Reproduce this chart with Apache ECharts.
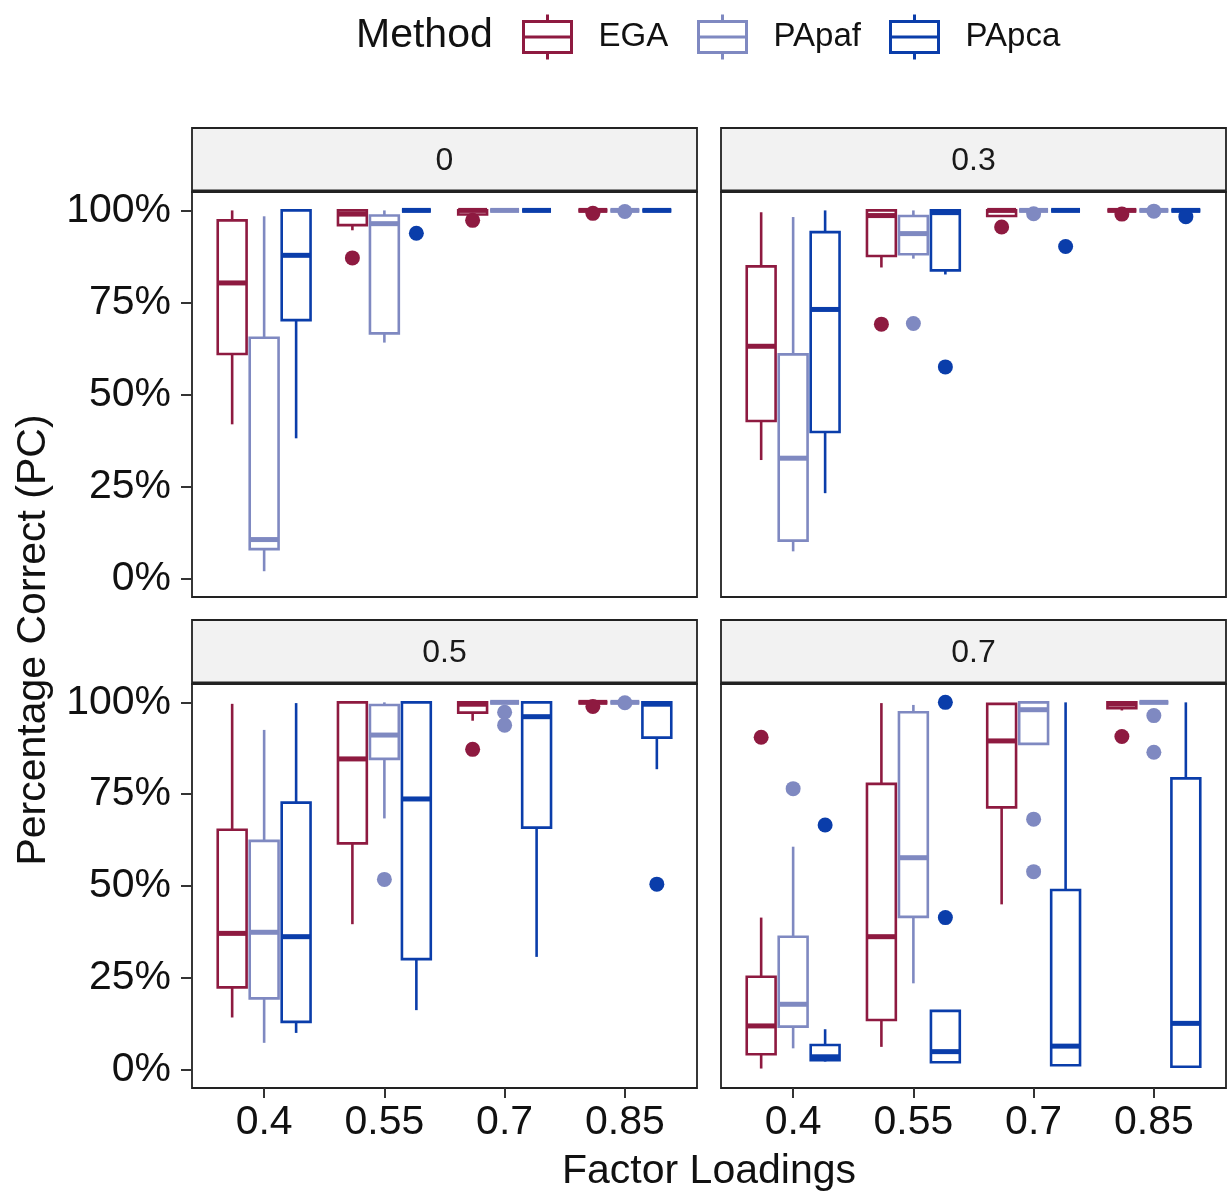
<!DOCTYPE html>
<html>
<head>
<meta charset="utf-8">
<script src="https://cdn.jsdelivr.net/npm/echarts@6/dist/echarts.min.js"></script>
<style>html,body{margin:0;padding:0;background:#fff}#c{width:1230px;height:1197px}</style>
</head>
<body>
<div id="c"></div>
<script>
// ---------- DATA ----------
const categories = ['0.4', '0.55', '0.7', '0.85'];
const panels = ['0', '0.3', '0.5', '0.7'];
const methods = ['EGA', 'PApaf', 'PApca'];
const yTicks = [0, 25, 50, 75, 100];

// box stats per factor loading: [lowerWhisker, Q1, median, Q3, upperWhisker] (%)
const EGA_p0   = [[41.9, 61.0, 80.3, 97.3, 100], [94.6, 96.0, 99.0, 100, 100], [98.6, 98.9, 100, 100, 100], [100, 100, 100, 100, 100]];
const PApaf_p0 = [[2.0, 8.0, 10.6, 65.4, 98.4], [64.1, 66.6, 96.4, 98.6, 100], [100, 100, 100, 100, 100], [100, 100, 100, 100, 100]];
const PApca_p0 = [[38.1, 70.2, 87.8, 100, 100], [100, 100, 100, 100, 100], [100, 100, 100, 100, 100], [100, 100, 100, 100, 100]];

const EGA_p1   = [[32.2, 42.8, 63.1, 84.8, 99.5], [84.5, 87.6, 98.6, 100, 100], [98.4, 98.5, 100, 100, 100], [100, 100, 100, 100, 100]];
const PApaf_p1 = [[7.4, 10.3, 32.7, 60.9, 98.2], [86.9, 88.1, 93.7, 98.5, 100], [100, 100, 100, 100, 100], [100, 100, 100, 100, 100]];
const PApca_p1 = [[23.2, 39.8, 73.1, 94.1, 100], [82.6, 83.7, 99.4, 100, 100], [100, 100, 100, 100, 100], [100, 100, 100, 100, 100]];

const EGA_p2   = [[14.2, 22.4, 37.1, 65.3, 99.6], [39.6, 61.6, 84.6, 100, 100], [95.0, 97.2, 99.5, 100, 100], [100, 100, 100, 100, 100]];
const PApaf_p2 = [[7.3, 19.4, 37.4, 62.3, 92.5], [68.4, 84.6, 91.1, 99.3, 100], [100, 100, 100, 100, 100], [100, 100, 100, 100, 100]];
const PApca_p2 = [[10.0, 13.0, 36.2, 72.7, 99.8], [16.2, 30.1, 73.7, 100, 100], [30.7, 65.9, 96.1, 100, 100], [81.8, 90.4, 99.5, 100, 100]];

const EGA_p3   = [[0.3, 4.2, 11.9, 25.3, 41.4], [6.2, 13.5, 36.2, 77.8, 99.8], [45.0, 71.4, 89.5, 99.6, 99.6], [97.8, 98.4, 99.5, 100, 100]];
const PApaf_p3 = [[5.8, 11.7, 17.8, 36.2, 60.7], [23.5, 41.6, 57.7, 97.3, 99.3], [88.7, 88.7, 98.0, 100, 100], [100, 100, 100, 100, 100]];
const PApca_p3 = [[2.2, 2.6, 3.5, 6.7, 11.0], [2.0, 2.0, 4.9, 16.0, 16.0], [1.2, 1.2, 6.4, 48.9, 100], [0.8, 0.8, 12.6, 79.3, 100]];

// outliers: [categoryIndex, value %]
const EGA_out_p0   = [[1, 87.1], [2, 97.3], [3, 99.2]];
const PApaf_out_p0 = [[3, 99.7]];
const PApca_out_p0 = [[1, 93.8]];

const EGA_out_p1   = [[1, 69.1], [2, 95.5], [3, 99.0]];
const PApaf_out_p1 = [[1, 69.3], [2, 99.1], [3, 99.8]];
const PApca_out_p1 = [[1, 57.5], [2, 90.2], [3, 98.3]];

const EGA_out_p2   = [[2, 87.2], [3, 98.9]];
const PApaf_out_p2 = [[1, 51.8], [2, 97.3], [2, 93.8], [3, 99.9]];
const PApca_out_p2 = [[3, 50.5]];

const EGA_out_p3   = [[0, 90.5], [3, 90.7]];
const PApaf_out_p3 = [[0, 76.5], [2, 68.2], [2, 53.9], [3, 96.4], [3, 86.4]];
const PApca_out_p3 = [[0, 66.6], [1, 100], [1, 41.4]];

// ---------- STYLE / LAYOUT ----------
const colors = {EGA: '#8E1A40', PApaf: '#7F89C1', PApca: '#0A3DAA'};
const boxes = [
  {EGA: EGA_p0, PApaf: PApaf_p0, PApca: PApca_p0},
  {EGA: EGA_p1, PApaf: PApaf_p1, PApca: PApca_p1},
  {EGA: EGA_p2, PApaf: PApaf_p2, PApca: PApca_p2},
  {EGA: EGA_p3, PApaf: PApaf_p3, PApca: PApca_p3}
];
const outs = [
  {EGA: EGA_out_p0, PApaf: PApaf_out_p0, PApca: PApca_out_p0},
  {EGA: EGA_out_p1, PApaf: PApaf_out_p1, PApca: PApca_out_p1},
  {EGA: EGA_out_p2, PApaf: PApaf_out_p2, PApca: PApca_out_p2},
  {EGA: EGA_out_p3, PApaf: PApaf_out_p3, PApca: PApca_out_p3}
];
const dodge = {EGA: -0.266, PApaf: 0, PApca: 0.266};
const HALF = 0.12;
const FONT = '"Liberation Sans", Arial, sans-serif';

const gridPos = [
  {left: 192, top: 192, width: 505, height: 405},
  {left: 721, top: 192, width: 505, height: 405},
  {left: 192, top: 684, width: 505, height: 404},
  {left: 721, top: 684, width: 505, height: 404}
];
const STRIP_H = 64;

function renderBox(params, api) {
  const x = api.value(0);
  const lo = api.value(1), q1 = api.value(2), md = api.value(3), q3 = api.value(4), hi = api.value(5);
  const a = api.coord([x - HALF, q3]);
  const b = api.coord([x + HALF, q1]);
  const top = api.coord([x, hi]);
  const bot = api.coord([x, lo]);
  const m1 = api.coord([x - HALF, md]);
  const m2 = api.coord([x + HALF, md]);
  const color = api.visual('color');
  const lw = 2.6;
  return {
    type: 'group',
    children: [
      {type: 'line', shape: {x1: top[0], y1: top[1], x2: top[0], y2: a[1]}, style: {stroke: color, lineWidth: lw}},
      {type: 'line', shape: {x1: bot[0], y1: b[1], x2: bot[0], y2: bot[1]}, style: {stroke: color, lineWidth: lw}},
      {type: 'rect', shape: {x: a[0], y: a[1], width: b[0] - a[0], height: b[1] - a[1]}, style: {fill: '#fff', stroke: color, lineWidth: lw}},
      {type: 'line', shape: {x1: m1[0], y1: m1[1], x2: m2[0], y2: m2[1]}, style: {stroke: color, lineWidth: 5}}
    ]
  };
}

const grids = [], xAxes = [], yAxes = [], series = [], graphics = [];
gridPos.forEach((g, p) => {
  const bottomRow = p >= 2, leftCol = p % 2 === 0;
  grids.push(Object.assign({show: true, borderColor: '#222', borderWidth: 1.8, backgroundColor: '#fff', containLabel: false}, g));
  xAxes.push({
    type: 'value', gridIndex: p, min: -0.6, max: 3.6, position: 'bottom',
    axisLine: {show: false, onZero: false}, splitLine: {show: false},
    axisTick: {show: bottomRow, customValues: [0, 1, 2, 3], length: 10, lineStyle: {color: '#333', width: 2}},
    axisLabel: {show: bottomRow, customValues: [0, 1, 2, 3], formatter: v => categories[Math.round(v)],
      fontSize: 41, fontFamily: FONT, color: '#111', margin: 14}
  });
  yAxes.push({
    type: 'value', gridIndex: p, min: -5, max: 105, position: 'left',
    axisLine: {show: false, onZero: false}, splitLine: {show: false},
    axisTick: {show: leftCol, customValues: yTicks, length: 11, lineStyle: {color: '#333', width: 2}},
    axisLabel: {show: leftCol, customValues: yTicks, formatter: v => v + '%',
      fontSize: 41, fontFamily: FONT, color: '#111', margin: 21}
  });
  methods.forEach(m => {
    series.push({
      name: m, type: 'custom', xAxisIndex: p, yAxisIndex: p,
      itemStyle: {color: colors[m]},
      encode: {x: 0, y: [1, 2, 3, 4, 5]},
      renderItem: renderBox,
      data: boxes[p][m].map((b, i) => [i + dodge[m]].concat(b)),
      z: 2, silent: true
    });
  });
  methods.forEach(m => {
    series.push({
      name: m, type: 'scatter', xAxisIndex: p, yAxisIndex: p,
      symbol: 'circle', symbolSize: 15,
      itemStyle: {color: colors[m], opacity: 1},
      data: outs[p][m].map(([i, v]) => [i + dodge[m], v]),
      z: 3, silent: true
    });
  });
  // facet strip
  graphics.push({
    type: 'rect', shape: {x: g.left, y: g.top - STRIP_H, width: g.width, height: STRIP_H},
    style: {fill: '#F2F2F2', stroke: '#222', lineWidth: 1.8}, z: 1
  });
  graphics.push({
    type: 'line', shape: {x1: g.left, y1: g.top - 1, x2: g.left + g.width, y2: g.top - 1},
    style: {stroke: '#222', lineWidth: 3.2}, z: 2
  });
  graphics.push({
    type: 'text', x: g.left + g.width / 2, y: g.top - STRIP_H / 2 + 1,
    style: {text: panels[p], fontSize: 32, fontFamily: FONT, fill: '#1a1a1a', textAlign: 'center', textVerticalAlign: 'middle'}, z: 3
  });
});

// axis titles + legend title
graphics.push({
  type: 'text', x: 709, y: 1172,
  style: {text: 'Factor Loadings', fontSize: 41, fontFamily: FONT, fill: '#111', textAlign: 'center', textVerticalAlign: 'middle'}
});
graphics.push({
  type: 'text', x: 34, y: 640, rotation: Math.PI / 2,
  style: {text: 'Percentage Correct (PC)', fontSize: 41, fontFamily: FONT, fill: '#111', textAlign: 'center', textVerticalAlign: 'middle'}
});
graphics.push({
  type: 'text', x: 356, y: 36,
  style: {text: 'Method', fontSize: 41, fontFamily: FONT, fill: '#111', textAlign: 'left', textVerticalAlign: 'middle'}
});

const ICON = 'path://M24,0L24,7M0,7L48,7L48,38L0,38ZM0,22.5L48,22.5M24,38L24,45';
const legendLeft = {EGA: 522, PApaf: 697, PApca: 889};
const legends = methods.map(m => ({
  left: legendLeft[m], top: 13, padding: 0, itemWidth: 48, itemHeight: 45, selectedMode: false,
  data: [{name: m, icon: ICON, itemStyle: {color: '#fff', borderColor: colors[m], borderWidth: 3}}],
  textStyle: {fontSize: 33, fontFamily: FONT, color: '#111', padding: [0, 0, 0, 22]}
}));

const chart = echarts.init(document.getElementById('c'), null, {renderer: 'canvas', width: 1230, height: 1197});
chart.setOption({
  backgroundColor: '#fff',
  animation: false,
  legend: legends,
  grid: grids,
  xAxis: xAxes,
  yAxis: yAxes,
  series: series,
  graphic: graphics
});
</script>
</body>
</html>
